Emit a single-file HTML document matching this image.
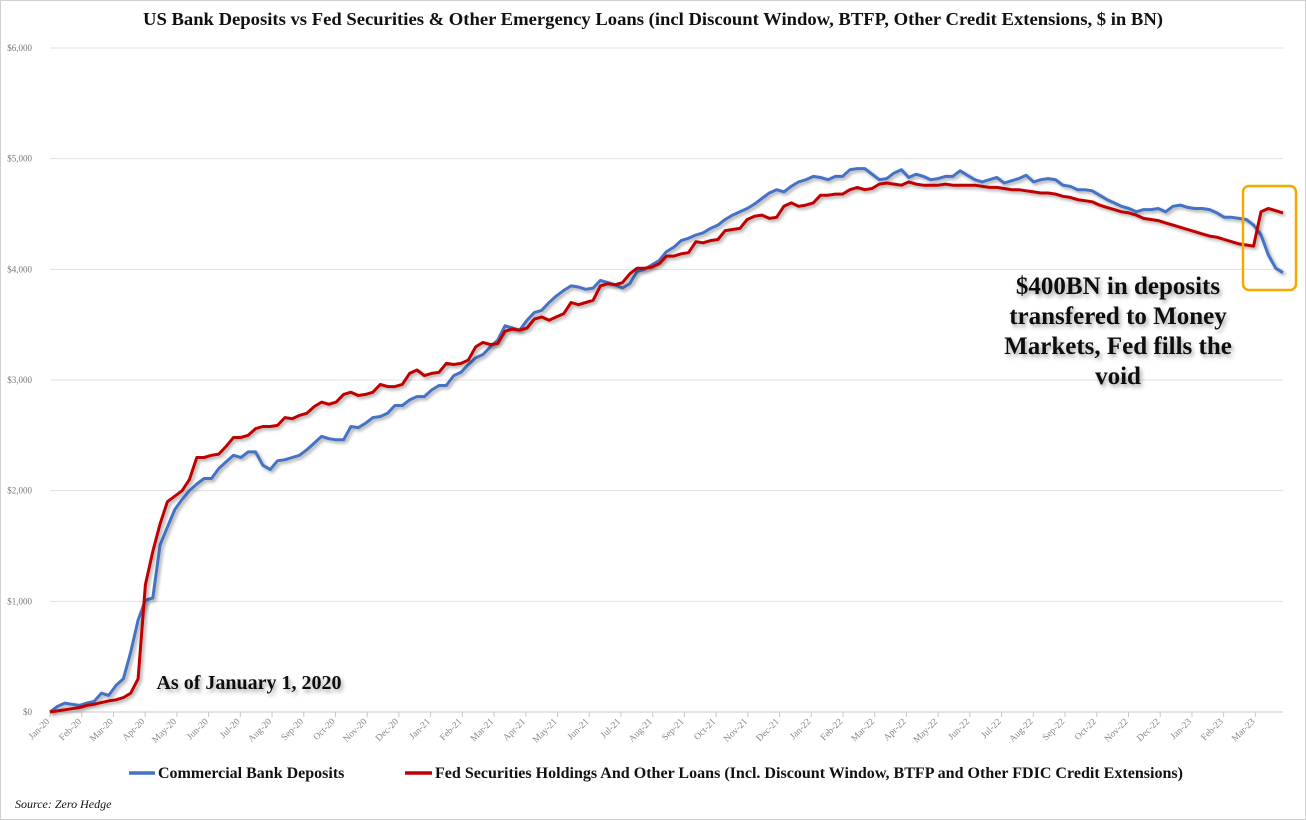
<!DOCTYPE html>
<html><head><meta charset="utf-8"><style>
body{margin:0;background:#fff;}
svg{display:block;font-family:"Liberation Serif",serif;}
</style></head><body>
<svg width="1306" height="820" viewBox="0 0 1306 820">
<defs>
<filter id="sh" x="-5%" y="-5%" width="110%" height="110%"><feDropShadow dx="2" dy="2" stdDeviation="1.5" flood-color="#000" flood-opacity="0.35"/></filter>
<filter id="tsh" x="-10%" y="-10%" width="120%" height="130%"><feDropShadow dx="2" dy="3" stdDeviation="2" flood-color="#000" flood-opacity="0.35"/></filter>
</defs>
<rect x="0.5" y="0.5" width="1305" height="819" fill="#fff" stroke="#d0d0d0"/>
<text x="653" y="25" text-anchor="middle" font-size="18.3" font-weight="bold" fill="#111" textLength="1020" lengthAdjust="spacingAndGlyphs">US Bank Deposits vs Fed Securities &amp; Other Emergency Loans (incl Discount Window, BTFP, Other Credit Extensions, $ in BN)</text>
<g id="grid"></g>
<g id="xaxis"></g>
<g id="series"></g>
<text x="249" y="689" text-anchor="middle" font-size="20" font-weight="bold" fill="#111" filter="url(#tsh)">As of January 1, 2020</text>
<g font-size="25" font-weight="bold" fill="#111" text-anchor="middle" filter="url(#tsh)">
<text x="1118" y="294">$400BN in deposits</text>
<text x="1118" y="324">transfered to Money</text>
<text x="1118" y="354">Markets, Fed fills the</text>
<text x="1118" y="384">void</text>
</g>
<rect x="1243" y="186" width="53" height="104" rx="6" fill="none" stroke="#f5a800" stroke-width="2.5"/>
<g>
<line x1="129" y1="773" x2="155" y2="773" stroke="#4472c4" stroke-width="3.5"/>
<text x="158" y="778" font-size="16" font-weight="bold" fill="#111">Commercial Bank Deposits</text>
<line x1="405" y1="773" x2="432" y2="773" stroke="#c00000" stroke-width="3.5"/>
<text x="435" y="778" font-size="16" font-weight="bold" fill="#111" textLength="748" lengthAdjust="spacingAndGlyphs">Fed Securities Holdings And Other Loans (Incl. Discount Window, BTFP and Other FDIC Credit Extensions)</text>
</g>
<text x="15" y="808" font-size="12" font-style="italic" fill="#111">Source: Zero Hedge</text>
</svg>
<script>
const yTicks=[0,1000,2000,3000,4000,5000,6000];
const yTickLabels=["$0","$1,000","$2,000","$3,000","$4,000","$5,000","$6,000"];
const months=["Jan-20","Feb-20","Mar-20","Apr-20","May-20","Jun-20","Jul-20","Aug-20","Sep-20","Oct-20","Nov-20","Dec-20","Jan-21","Feb-21","Mar-21","Apr-21","May-21","Jun-21","Jul-21","Aug-21","Sep-21","Oct-21","Nov-21","Dec-21","Jan-22","Feb-22","Mar-22","Apr-22","May-22","Jun-22","Jul-22","Aug-22","Sep-22","Oct-22","Nov-22","Dec-22","Jan-23","Feb-23","Mar-23"];
const deposits=[0,50,80,70,60,80,95,170,150,240,300,540,830,1010,1030,1510,1670,1830,1920,2000,2060,2110,2110,2200,2260,2320,2300,2350,2350,2230,2190,2270,2280,2300,2320,2370,2430,2490,2470,2460,2460,2580,2570,2610,2660,2670,2700,2770,2770,2820,2850,2850,2910,2950,2950,3040,3070,3140,3200,3230,3300,3360,3490,3470,3450,3540,3610,3630,3700,3760,3810,3850,3840,3820,3830,3900,3880,3860,3830,3870,3980,4000,4040,4080,4160,4200,4260,4280,4310,4330,4370,4400,4450,4490,4520,4550,4590,4640,4690,4720,4700,4750,4790,4810,4840,4830,4810,4840,4840,4900,4910,4910,4860,4810,4820,4870,4900,4830,4860,4840,4810,4820,4840,4840,4890,4850,4810,4790,4810,4830,4780,4800,4820,4850,4790,4810,4820,4810,4760,4750,4720,4720,4710,4670,4630,4600,4570,4550,4520,4540,4540,4550,4520,4570,4580,4560,4550,4550,4540,4510,4470,4470,4460,4450,4400,4310,4130,4010,3970];
const fedLoans=[0,10,20,30,40,60,70,85,100,110,130,170,300,1150,1450,1700,1900,1950,2000,2100,2300,2300,2320,2330,2400,2480,2480,2500,2560,2580,2580,2590,2660,2650,2680,2700,2760,2800,2780,2800,2870,2890,2860,2870,2890,2960,2940,2940,2960,3060,3090,3040,3060,3070,3150,3140,3150,3180,3300,3340,3320,3330,3440,3460,3450,3470,3550,3570,3540,3570,3600,3700,3680,3700,3720,3850,3870,3860,3880,3960,4010,4010,4020,4050,4120,4120,4140,4150,4250,4240,4260,4270,4350,4360,4370,4450,4480,4490,4460,4470,4570,4600,4570,4580,4600,4670,4670,4680,4680,4720,4740,4720,4730,4770,4780,4770,4760,4790,4770,4760,4760,4760,4770,4760,4760,4760,4760,4750,4740,4740,4730,4720,4720,4710,4700,4690,4690,4680,4660,4650,4630,4620,4610,4580,4560,4540,4520,4510,4490,4460,4450,4440,4420,4400,4380,4360,4340,4320,4300,4290,4270,4250,4230,4220,4210,4520,4550,4530,4510];
const NS="http://www.w3.org/2000/svg";
const X0=50,X1=1283,Y0=712,YTOP=48,VMAX=6000,MW=31.72;
const yS=v=>Y0-(v/VMAX)*(Y0-YTOP);
function mk(t,a,p){const e=document.createElementNS(NS,t);for(const k in a)e.setAttribute(k,a[k]);p.appendChild(e);return e;}
const grid=document.getElementById('grid');
yTicks.forEach((v,i)=>{
  const l=mk('line',{x1:X0,x2:X1,y1:yS(v),y2:yS(v),stroke:i==0?'#c8c8c8':'#e0e0e0','stroke-width':1},grid);
  
  
  const t=mk('text',{x:32,y:yS(v)+3,'text-anchor':'end','font-size':9,fill:'#777'},grid);
  t.textContent=yTickLabels[i];
  
  
});
const xa=document.getElementById('xaxis');
months.forEach((m,i)=>{
  const x=X0+i*MW;
  const tk=mk('line',{x1:x,x2:x,y1:Y0,y2:Y0+5,stroke:'#c8c8c8'},xa);
  
  
  const t=mk('text',{x:x,y:Y0+10,'text-anchor':'end','font-size':9.5,fill:'#888',transform:`rotate(-45 ${x} ${Y0+10})`},xa);
  t.textContent=m;
  
  
});
const sg=document.getElementById('series');
function line(arr,col,name){
  const n=arr.length;
  const pts=arr.map((v,i)=>(X0+i*(X1-X0)/(n-1)).toFixed(1)+','+yS(v).toFixed(1)).join(' ');
  const p=mk('polyline',{points:pts,fill:'none',stroke:col,'stroke-width':3,'stroke-linejoin':'round',filter:'url(#sh)'},sg);
  
  
}
line(deposits,'#4472c4','deposits-line');
line(fedLoans,'#c00000','fed-loans-line');
</script>
</body></html>
